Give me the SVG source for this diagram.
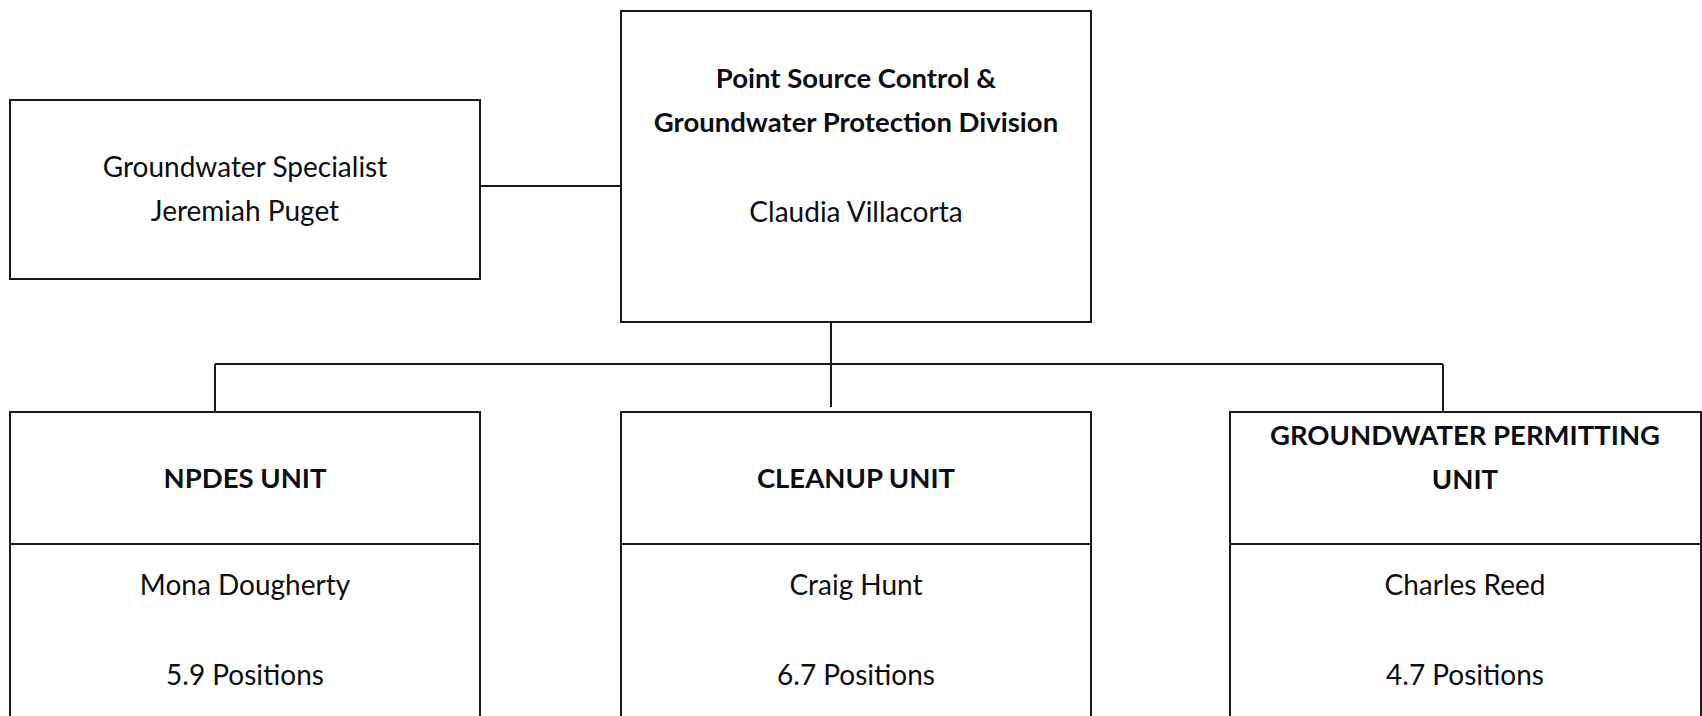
<svg xmlns="http://www.w3.org/2000/svg" width="1702" height="716" viewBox="0 0 1702 716">
<style>
.box{fill:#fff;stroke:#1a1a1a;stroke-width:2}
.ln{fill:none;stroke:#1a1a1a;stroke-width:2}
text{font-family:Lato,"Open Sans","Liberation Sans",sans-serif;font-size:28px;fill:#0d0d14;text-anchor:middle}
.b{font-weight:bold;font-size:27.5px}
</style>
<rect width="1702" height="716" fill="#fff"/>
<g id="connectors">
<line class="ln" x1="480" y1="186" x2="621" y2="186"/>
<line class="ln" x1="831" y1="322" x2="831" y2="407"/>
<line class="ln" x1="215" y1="364" x2="1443" y2="364"/>
<line class="ln" x1="215" y1="364" x2="215" y2="412"/>
<line class="ln" x1="1443" y1="364" x2="1443" y2="412"/>
</g>
<g id="specialist">
<rect class="box" x="10" y="100" width="470" height="179"/>
<text x="245" y="177">Groundwater Specialist</text>
<text x="245" y="221">Jeremiah Puget</text>
</g>
<g id="division">
<rect class="box" x="621" y="11" width="470" height="311"/>
<text class="b" x="856" y="88">Point Source Control &amp;</text>
<text class="b" x="856" y="132">Groundwater Protection Division</text>
<text x="856" y="222">Claudia Villacorta</text>
</g>
<g id="npdes">
<rect class="box" x="10" y="412" width="470" height="320"/>
<line class="ln" x1="10" y1="544" x2="480" y2="544"/>
<text class="b" x="245" y="488">NPDES UNIT</text>
<text x="245" y="595">Mona Dougherty</text>
<text x="245" y="685">5.9 Positions</text>
</g>
<g id="cleanup">
<rect class="box" x="621" y="412" width="470" height="320"/>
<line class="ln" x1="621" y1="544" x2="1091" y2="544"/>
<text class="b" x="856" y="488">CLEANUP UNIT</text>
<text x="856" y="595">Craig Hunt</text>
<text x="856" y="685">6.7 Positions</text>
</g>
<g id="gwpermitting">
<rect class="box" x="1230" y="412" width="471" height="320"/>
<line class="ln" x1="1230" y1="544" x2="1701" y2="544"/>
<text class="b" x="1465" y="445">GROUNDWATER PERMITTING</text>
<text class="b" x="1465" y="489">UNIT</text>
<text x="1465" y="595">Charles Reed</text>
<text x="1465" y="685">4.7 Positions</text>
</g>
</svg>
